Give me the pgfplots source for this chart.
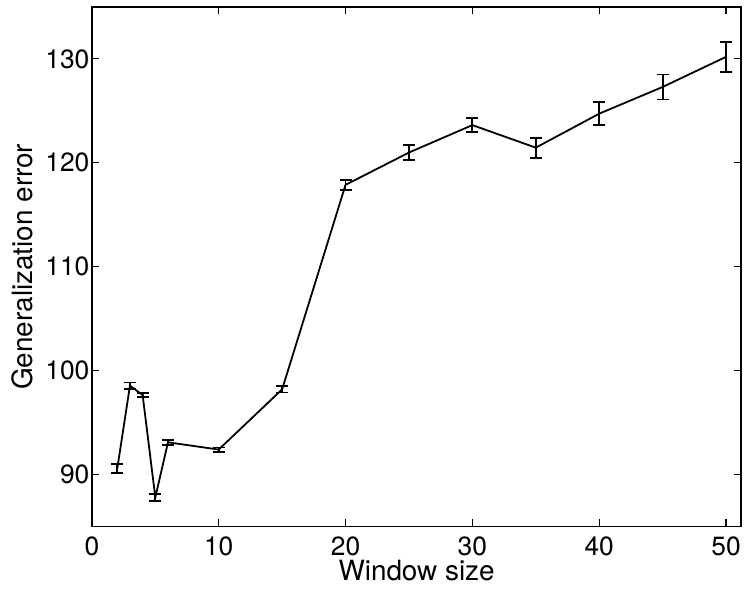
\documentclass[border=0pt]{standalone}
\usepackage{fontspec}
\setmainfont{TeX Gyre Heros}
\usepackage{pgfplots}
\pgfplotsset{compat=1.18}
\usetikzlibrary{calc}
\newcommand{\TickFont}{\fontsize{26.5}{30}\selectfont}
\newcommand{\LabelFont}{\fontsize{28}{32}\selectfont}

\begin{document}
\begin{tikzpicture}
\begin{axis}[
    scale only axis,
    width=650bp, height=520bp,
    xmin=0, xmax=51.2,
    ymin=85, ymax=135,
    xtick={0,10,...,50},
    ytick={90,100,...,130},
    tick align=inside,
    major tick length=7bp,
    axis line style={line width=1.8bp},
    tick style={line width=1.1bp, black},
    tick label style={font=\TickFont},
    xticklabel style={anchor=base, yshift=-29bp},
    yticklabel style={xshift=1bp},
    /pgf/number format/assume math mode=true,
    xlabel={Window size},
    ylabel={Generalization error},
    label style={font=\LabelFont},
    xlabel style={at={(axis description cs:0.5,0)}, anchor=base, yshift=-54bp},
    ylabel style={at={(axis description cs:-0.1077,0.5)}, anchor=center},
    clip=false,
]
\addplot[black, line width=1.8bp, mark=none,
    error bars/.cd, y dir=both, y explicit,
    error bar style={line width=1.8bp},
    error mark options={rotate=90, mark size=6bp, line width=1.8bp}]
coordinates {
    (2,90.56)   +- (0,0.45)
    (3,98.55)   +- (0,0.3)
    (4,97.65)   +- (0,0.2)
    (5,87.8)    +- (0,0.35)
    (6,93.1)    +- (0,0.25)
    (10,92.4)   +- (0,0.2)
    (15,98.2)   +- (0,0.3)
    (20,117.88) +- (0,0.5)
    (25,120.99) +- (0,0.75)
    (30,123.63) +- (0,0.65)
    (35,121.46) +- (0,0.96)
    (40,124.73) +- (0,1.09)
    (45,127.3)  +- (0,1.2)
    (50,130.2)  +- (0,1.45)
};
\end{axis}
\path ($(current axis.south west)+(-92bp,-62bp)$) rectangle ($(current axis.north east)+(2bp,7bp)$);
\end{tikzpicture}
\end{document}
